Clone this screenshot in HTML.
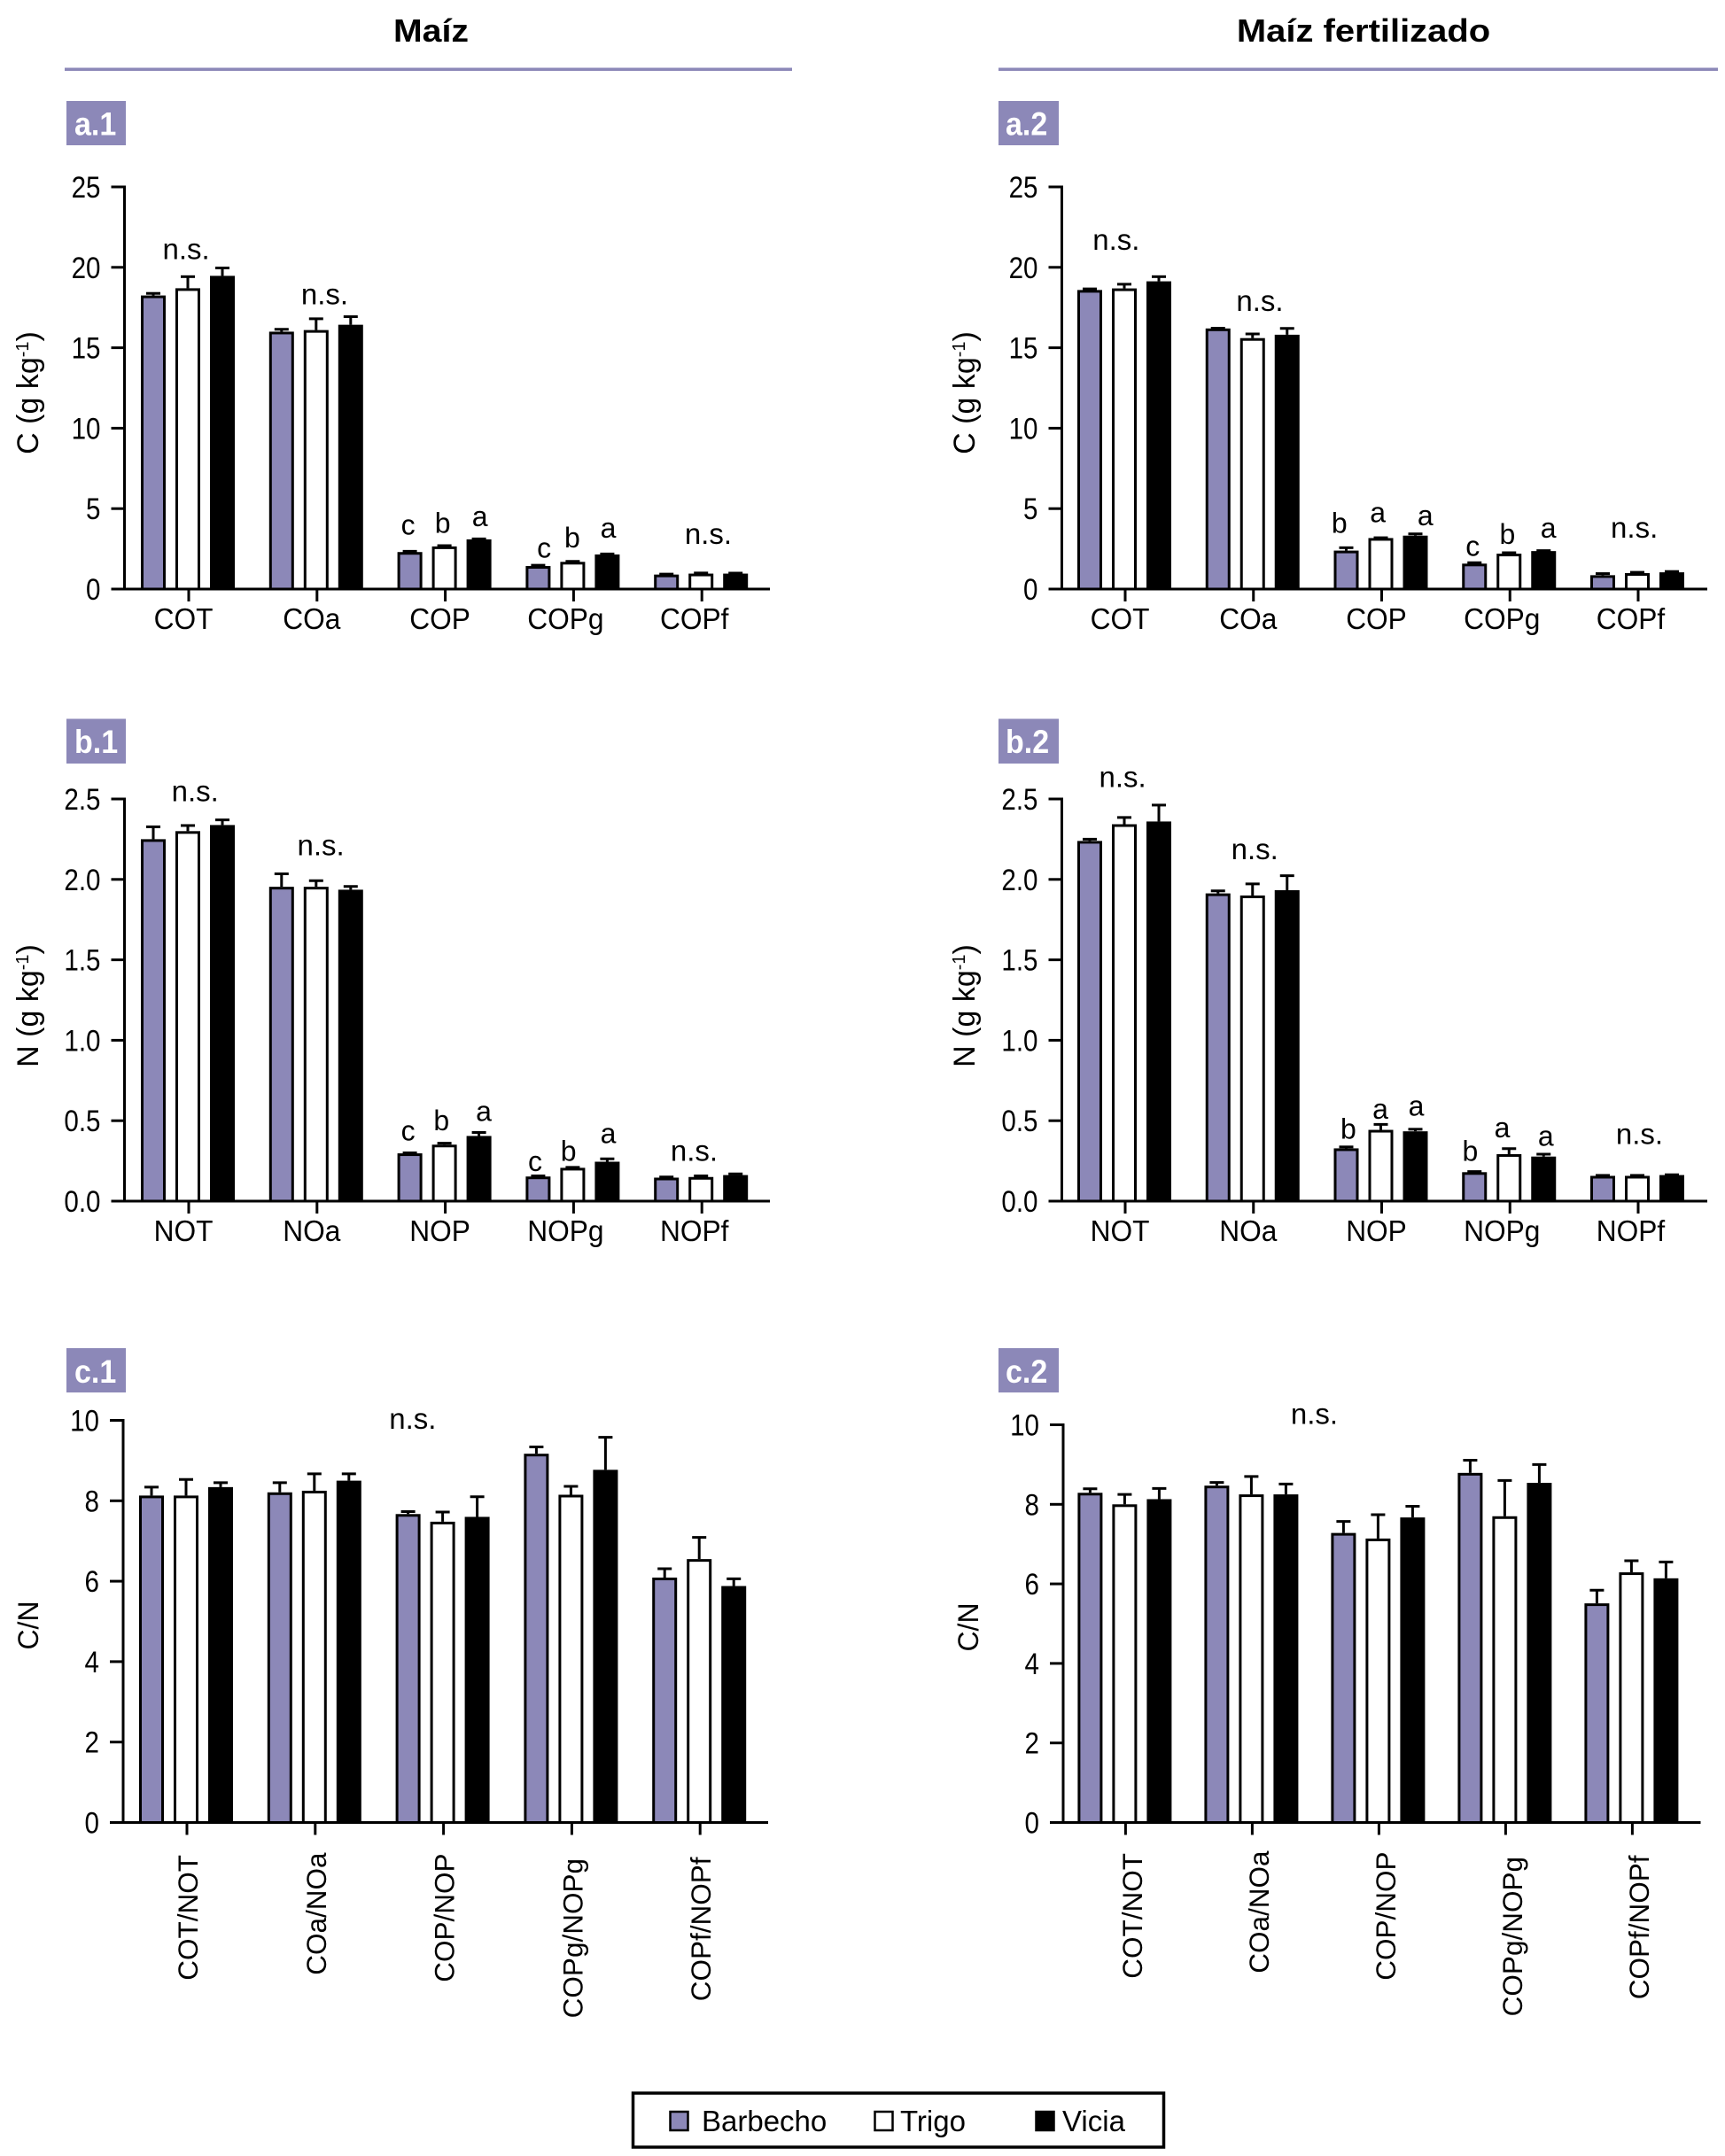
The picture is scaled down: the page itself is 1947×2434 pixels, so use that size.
<!DOCTYPE html>
<html lang="es">
<head>
<meta charset="utf-8">
<title>Maíz y Maíz fertilizado: C, N y C/N</title>
<style>
  html, body { margin: 0; padding: 0; background: #fff; }
  svg { display: block; font-family: "Liberation Sans", Arial, sans-serif; }
</style>
</head>
<body>
<svg id="chart" xmlns="http://www.w3.org/2000/svg" width="1947" height="2434" viewBox="0 0 1947 2434">
  <rect x="0" y="0" width="1947" height="2434" fill="#fff"/>

  <text transform="translate(486.5,47) scale(1.09,1)" text-anchor="middle" font-size="36" font-weight="700">Maíz</text>
  <text transform="translate(1539,47) scale(1.11,1)" text-anchor="middle" font-size="36" font-weight="700">Maíz fertilizado</text>
  <rect x="73" y="76.5" width="821" height="3.5" fill="#8c88b8"/>
  <rect x="1127" y="76.5" width="812" height="3.5" fill="#8c88b8"/>

  <g font-size="37" font-weight="700" fill="#fff">
    <rect x="75" y="114" width="67" height="50" fill="#8c88b8"/>
    <text transform="translate(84,152.5) scale(0.92,1)">a.1</text>
    <rect x="1127" y="114" width="68" height="50" fill="#8c88b8"/>
    <text transform="translate(1135,152.5) scale(0.92,1)">a.2</text>
    <rect x="75" y="811.5" width="67" height="50.5" fill="#8c88b8"/>
    <text transform="translate(84,850) scale(0.92,1)">b.1</text>
    <rect x="1127" y="811.5" width="68" height="50.5" fill="#8c88b8"/>
    <text transform="translate(1135,850) scale(0.92,1)">b.2</text>
    <rect x="75" y="1522" width="67" height="50" fill="#8c88b8"/>
    <text transform="translate(84,1561) scale(0.92,1)">c.1</text>
    <rect x="1127" y="1522" width="68" height="50" fill="#8c88b8"/>
    <text transform="translate(1135,1561) scale(0.92,1)">c.2</text>
  </g>

  <g font-size="34" fill="#000">
    <text transform="translate(43,443.5) rotate(-90)" text-anchor="middle">C (g kg<tspan font-size="20" dy="-11">-1</tspan><tspan dy="11">)</tspan></text>
    <text transform="translate(1100,443.5) rotate(-90)" text-anchor="middle">C (g kg<tspan font-size="20" dy="-11">-1</tspan><tspan dy="11">)</tspan></text>
    <text transform="translate(43,1135.5) rotate(-90)" text-anchor="middle">N (g kg<tspan font-size="20" dy="-11">-1</tspan><tspan dy="11">)</tspan></text>
    <text transform="translate(1100,1135.5) rotate(-90)" text-anchor="middle">N (g kg<tspan font-size="20" dy="-11">-1</tspan><tspan dy="11">)</tspan></text>
    <text transform="translate(43,1835) rotate(-90)" text-anchor="middle" font-size="32">C/N</text>
    <text transform="translate(1104,1837) rotate(-90)" text-anchor="middle" font-size="32">C/N</text>
  </g>

  <g id="panels"></g>

  <g font-size="33" fill="#000">
    <rect x="714.5" y="2363" width="599" height="61" fill="#fff" stroke="#000" stroke-width="3.5"/>
    <rect x="756.5" y="2384" width="20" height="21" fill="#8c88b8" stroke="#000" stroke-width="2.5"/>
    <text x="792" y="2406">Barbecho</text>
    <rect x="987.5" y="2384" width="20" height="21" fill="#fff" stroke="#000" stroke-width="2.5"/>
    <text x="1016" y="2406">Trigo</text>
    <rect x="1169.5" y="2384" width="20" height="21" fill="#000" stroke="#000" stroke-width="2.5"/>
    <text x="1199" y="2406">Vicia</text>
  </g>
</svg>

<script>
// ---- Categories and tick labels ----
const carbonCategories = ["COT", "COa", "COP", "COPg", "COPf"];
const nitrogenCategories = ["NOT", "NOa", "NOP", "NOPg", "NOPf"];
const ratioCategories = ["COT/NOT", "COa/NOa", "COP/NOP", "COPg/NOPg", "COPf/NOPf"];
const carbonTicks = ["0", "5", "10", "15", "20", "25"];
const nitrogenTicks = ["0.0", "0.5", "1.0", "1.5", "2.0", "2.5"];
const ratioTicks = ["0", "2", "4", "6", "8", "10"];

// ---- Panel a.1: C, Maíz (bar means and upper error-bar values) ----
const a1Barbecho = [18.25, 16.0, 2.3, 1.43, 0.9];
const a1BarbechoTop = [18.38, 16.15, 2.35, 1.48, 0.93];
const a1Trigo = [18.7, 16.1, 2.65, 1.69, 0.96];
const a1TrigoTop = [19.42, 16.8, 2.7, 1.72, 1.0];
const a1Vicia = [19.47, 16.43, 3.09, 2.15, 0.96];
const a1ViciaTop = [19.96, 16.93, 3.12, 2.18, 0.99];
const a1NoteText = ["n.s.", "n.s.", "c", "b", "a", "c", "b", "a", "n.s."];
const a1NoteGroup = [-0.02, 1.06, 1.71, 1.98, 2.27, 2.77, 2.99, 3.27, 4.05];
const a1NoteLevel = [20.5, 17.7, 3.4, 3.5, 3.9, 1.95, 2.6, 3.2, 2.8];

// ---- Panel a.2: C, Maíz fertilizado ----
const a2Barbecho = [18.59, 16.2, 2.39, 1.58, 0.86];
const a2BarbechoTop = [18.66, 16.22, 2.57, 1.64, 0.96];
const a2Trigo = [18.69, 15.6, 3.17, 2.2, 0.99];
const a2TrigoTop = [18.95, 15.86, 3.19, 2.26, 1.04];
const a2Vicia = [19.13, 15.81, 3.32, 2.36, 1.04];
const a2ViciaTop = [19.42, 16.2, 3.43, 2.39, 1.09];
const a2NoteText = ["n.s.", "n.s.", "b", "a", "a", "c", "b", "a", "n.s."];
const a2NoteGroup = [-0.07, 1.05, 1.67, 1.97, 2.34, 2.71, 2.98, 3.3, 3.97];
const a2NoteLevel = [21.1, 17.3, 3.5, 4.15, 3.97, 2.07, 2.8, 3.2, 3.2];

// ---- Panel b.1: N, Maíz ----
const b1Barbecho = [2.25, 1.954, 0.297, 0.153, 0.146];
const b1BarbechoTop = [2.327, 2.035, 0.3, 0.157, 0.15];
const b1Trigo = [2.3, 1.954, 0.351, 0.207, 0.15];
const b1TrigoTop = [2.335, 1.992, 0.36, 0.21, 0.157];
const b1Vicia = [2.338, 1.936, 0.405, 0.245, 0.162];
const b1ViciaTop = [2.37, 1.956, 0.427, 0.263, 0.169];
const b1NoteText = ["n.s.", "n.s.", "c", "b", "a", "c", "b", "a", "n.s."];
const b1NoteGroup = [0.05, 1.03, 1.71, 1.97, 2.3, 2.7, 2.96, 3.27, 3.94];
const b1NoteLevel = [2.487, 2.15, 0.378, 0.44, 0.497, 0.187, 0.25, 0.362, 0.25];

// ---- Panel b.2: N, Maíz fertilizado ----
const b2Barbecho = [2.239, 1.913, 0.328, 0.18, 0.157];
const b2BarbechoTop = [2.25, 1.929, 0.337, 0.184, 0.16];
const b2Trigo = [2.343, 1.9, 0.443, 0.292, 0.157];
const b2TrigoTop = [2.385, 1.972, 0.477, 0.326, 0.16];
const b2Vicia = [2.36, 1.933, 0.434, 0.277, 0.162];
const b2ViciaTop = [2.462, 2.023, 0.447, 0.292, 0.164];
const b2NoteText = ["n.s.", "n.s.", "b", "a", "a", "b", "a", "a", "n.s."];
const b2NoteGroup = [-0.02, 1.01, 1.74, 1.99, 2.27, 2.69, 2.94, 3.28, 4.01];
const b2NoteLevel = [2.574, 2.125, 0.389, 0.513, 0.531, 0.25, 0.396, 0.344, 0.355];

// ---- Panel c.1: C/N, Maíz ----
const c1Barbecho = [8.13, 8.21, 7.67, 9.17, 6.09];
const c1BarbechoTop = [8.34, 8.45, 7.73, 9.34, 6.31];
const c1Trigo = [8.13, 8.25, 7.48, 8.15, 6.55];
const c1TrigoTop = [8.53, 8.67, 7.72, 8.36, 7.09];
const c1Vicia = [8.34, 8.5, 7.6, 8.77, 5.88];
const c1ViciaTop = [8.45, 8.67, 8.1, 9.58, 6.06];
const c1NoteText = ["n.s."];
const c1NoteGroup = [1.76];
const c1NoteLevel = [9.79];

// ---- Panel c.2: C/N, Maíz fertilizado ----
const c2Barbecho = [8.29, 8.47, 7.28, 8.79, 5.51];
const c2BarbechoTop = [8.39, 8.55, 7.57, 9.11, 5.84];
const c2Trigo = [8.0, 8.25, 7.14, 7.7, 6.29];
const c2TrigoTop = [8.25, 8.7, 7.74, 8.6, 6.58];
const c2Vicia = [8.13, 8.25, 7.67, 8.54, 6.14];
const c2ViciaTop = [8.4, 8.51, 7.95, 9.0, 6.55];
const c2NoteText = ["n.s."];
const c2NoteGroup = [1.49];
const c2NoteLevel = [10.02];

// ---- Drawing ----
const SVG_NS = "http://www.w3.org/2000/svg";
const root = document.getElementById("panels");
const PURPLE = "#8c88b8";

function mk(parent, tag, name, attrs, text) {
  const el = document.createElementNS(SVG_NS, tag);
  
  
  for (const k in attrs) el.setAttribute(k, attrs[k]);
  if (text !== undefined) el.textContent = text;
  parent.appendChild(el);
  return el;
}

const seriesKeys = ["barbecho", "trigo", "vicia"];
const seriesFill = [PURPLE, "#fff", "#000"];

function drawPanel(p) {
  const g = mk(root, "g", "panel-" + p.id, { fill: "#000" });
  const maxV = parseFloat(p.ticks[p.ticks.length - 1]);
  const yScale = v => p.zero - (v / maxV) * (p.zero - p.top);
  const xTick = i => p.x0 + p.step * i;

  // bars + error bars
  p.series.forEach((vals, s) => {
    const tops = p.errTops[s];
    vals.forEach((v, i) => {
      const cx = xTick(i) + (s - 1) * 39 - 1;
      const key = p.id + "-" + seriesKeys[s] + "-" + p.cats[i].toLowerCase().replace("/", "-");
      const ey = yScale(tops[i]);
      const by = yScale(v);
      mk(g, "line", "error-bar-" + key, { x1: cx, x2: cx, y1: ey, y2: by, stroke: "#000", "stroke-width": 3 });
      mk(g, "line", "error-cap-" + key, { x1: cx - 8, x2: cx + 8, y1: ey, y2: ey, stroke: "#000", "stroke-width": 3 });
      mk(g, "rect", "bar-" + key, { x: cx - 12.5, y: by + 1.5, width: 25, height: Math.max(0, p.zero - by - 1.5), fill: seriesFill[s], stroke: "#000", "stroke-width": 3 });
    });
  });

  // axes
  mk(g, "line", "y-axis-" + p.id, { x1: p.axisX, x2: p.axisX, y1: p.top - 1.5, y2: p.zero + 1.5, stroke: "#000", "stroke-width": 3 });
  mk(g, "line", "x-axis-" + p.id, { x1: p.axisX - 15, x2: p.xEnd, y1: p.zero, y2: p.zero, stroke: "#000", "stroke-width": 3 });

  // y ticks
  p.ticks.forEach(t => {
    const y = yScale(parseFloat(t));
    mk(g, "line", "y-tick-" + p.id + "-" + t, { x1: p.axisX - 15, x2: p.axisX, y1: y, y2: y, stroke: "#000", "stroke-width": 3 });
    mk(g, "text", "y-tick-label-" + p.id + "-" + t, { transform: "translate(" + (p.axisX - 27) + "," + (y + 12) + ") scale(0.87,1)", "text-anchor": "end", "font-size": 34 }, t);
  });

  // x ticks & labels
  p.cats.forEach((c, i) => {
    const x = xTick(i);
    mk(g, "line", "x-tick-" + p.id + "-" + c.toLowerCase().replace("/", "-"), { x1: x, x2: x, y1: p.zero, y2: p.zero + 14, stroke: "#000", "stroke-width": 3 });
    if (p.rotated) {
      const labelTopOffset = [0, -2.5, -1.5, 4, 2.5][i];
      mk(g, "text", "x-tick-label-" + p.id + "-" + c.toLowerCase().replace("/", "-"), { transform: "translate(" + (x + p.labelDx) + "," + (p.labelTop + labelTopOffset) + ") rotate(-90)", "text-anchor": "end", "font-size": 31.5 }, c);
    } else {
      const labelDx = [-6, -6, -6, -9, -8.5][i];
      mk(g, "text", "x-tick-label-" + p.id + "-" + c.toLowerCase(), { transform: "translate(" + (x + labelDx) + "," + (p.zero + 45) + ") scale(0.96,1)", "text-anchor": "middle", "font-size": 33 }, c);
    }
  });

  // significance annotations
  p.noteText.forEach((t, i) => {
    mk(g, "text", "significance-" + p.id + "-" + i, { x: xTick(p.noteGroup[i]), y: yScale(p.noteLevel[i]), "text-anchor": "middle", "font-size": t === "n.s." ? 33 : 32 }, t);
  });
}

drawPanel({ id: "a1", axisX: 140.5, top: 211, zero: 665, x0: 213, step: 144.8, xEnd: 869, cats: carbonCategories, ticks: carbonTicks,
  series: [a1Barbecho, a1Trigo, a1Vicia], errTops: [a1BarbechoTop, a1TrigoTop, a1ViciaTop], noteText: a1NoteText, noteGroup: a1NoteGroup, noteLevel: a1NoteLevel });
drawPanel({ id: "a2", axisX: 1198.5, top: 211, zero: 665, x0: 1270, step: 144.75, xEnd: 1927, cats: carbonCategories, ticks: carbonTicks,
  series: [a2Barbecho, a2Trigo, a2Vicia], errTops: [a2BarbechoTop, a2TrigoTop, a2ViciaTop], noteText: a2NoteText, noteGroup: a2NoteGroup, noteLevel: a2NoteLevel });
drawPanel({ id: "b1", axisX: 140.5, top: 902, zero: 1356, x0: 213, step: 144.8, xEnd: 869, cats: nitrogenCategories, ticks: nitrogenTicks,
  series: [b1Barbecho, b1Trigo, b1Vicia], errTops: [b1BarbechoTop, b1TrigoTop, b1ViciaTop], noteText: b1NoteText, noteGroup: b1NoteGroup, noteLevel: b1NoteLevel });
drawPanel({ id: "b2", axisX: 1198.5, top: 902, zero: 1356, x0: 1270, step: 144.75, xEnd: 1927, cats: nitrogenCategories, ticks: nitrogenTicks,
  series: [b2Barbecho, b2Trigo, b2Vicia], errTops: [b2BarbechoTop, b2TrigoTop, b2ViciaTop], noteText: b2NoteText, noteGroup: b2NoteGroup, noteLevel: b2NoteLevel });
drawPanel({ id: "c1", axisX: 139, top: 1603.5, zero: 2057.5, x0: 211, step: 144.8, xEnd: 867, cats: ratioCategories, ticks: ratioTicks, rotated: true, labelDx: 12, labelTop: 2094,
  series: [c1Barbecho, c1Trigo, c1Vicia], errTops: [c1BarbechoTop, c1TrigoTop, c1ViciaTop], noteText: c1NoteText, noteGroup: c1NoteGroup, noteLevel: c1NoteLevel });
drawPanel({ id: "c2", axisX: 1200, top: 1608.5, zero: 2057.5, x0: 1270.4, step: 143, xEnd: 1919.5, cats: ratioCategories, ticks: ratioTicks, rotated: true, labelDx: 18.5, labelTop: 2092,
  series: [c2Barbecho, c2Trigo, c2Vicia], errTops: [c2BarbechoTop, c2TrigoTop, c2ViciaTop], noteText: c2NoteText, noteGroup: c2NoteGroup, noteLevel: c2NoteLevel });
</script>
</body>
</html>
